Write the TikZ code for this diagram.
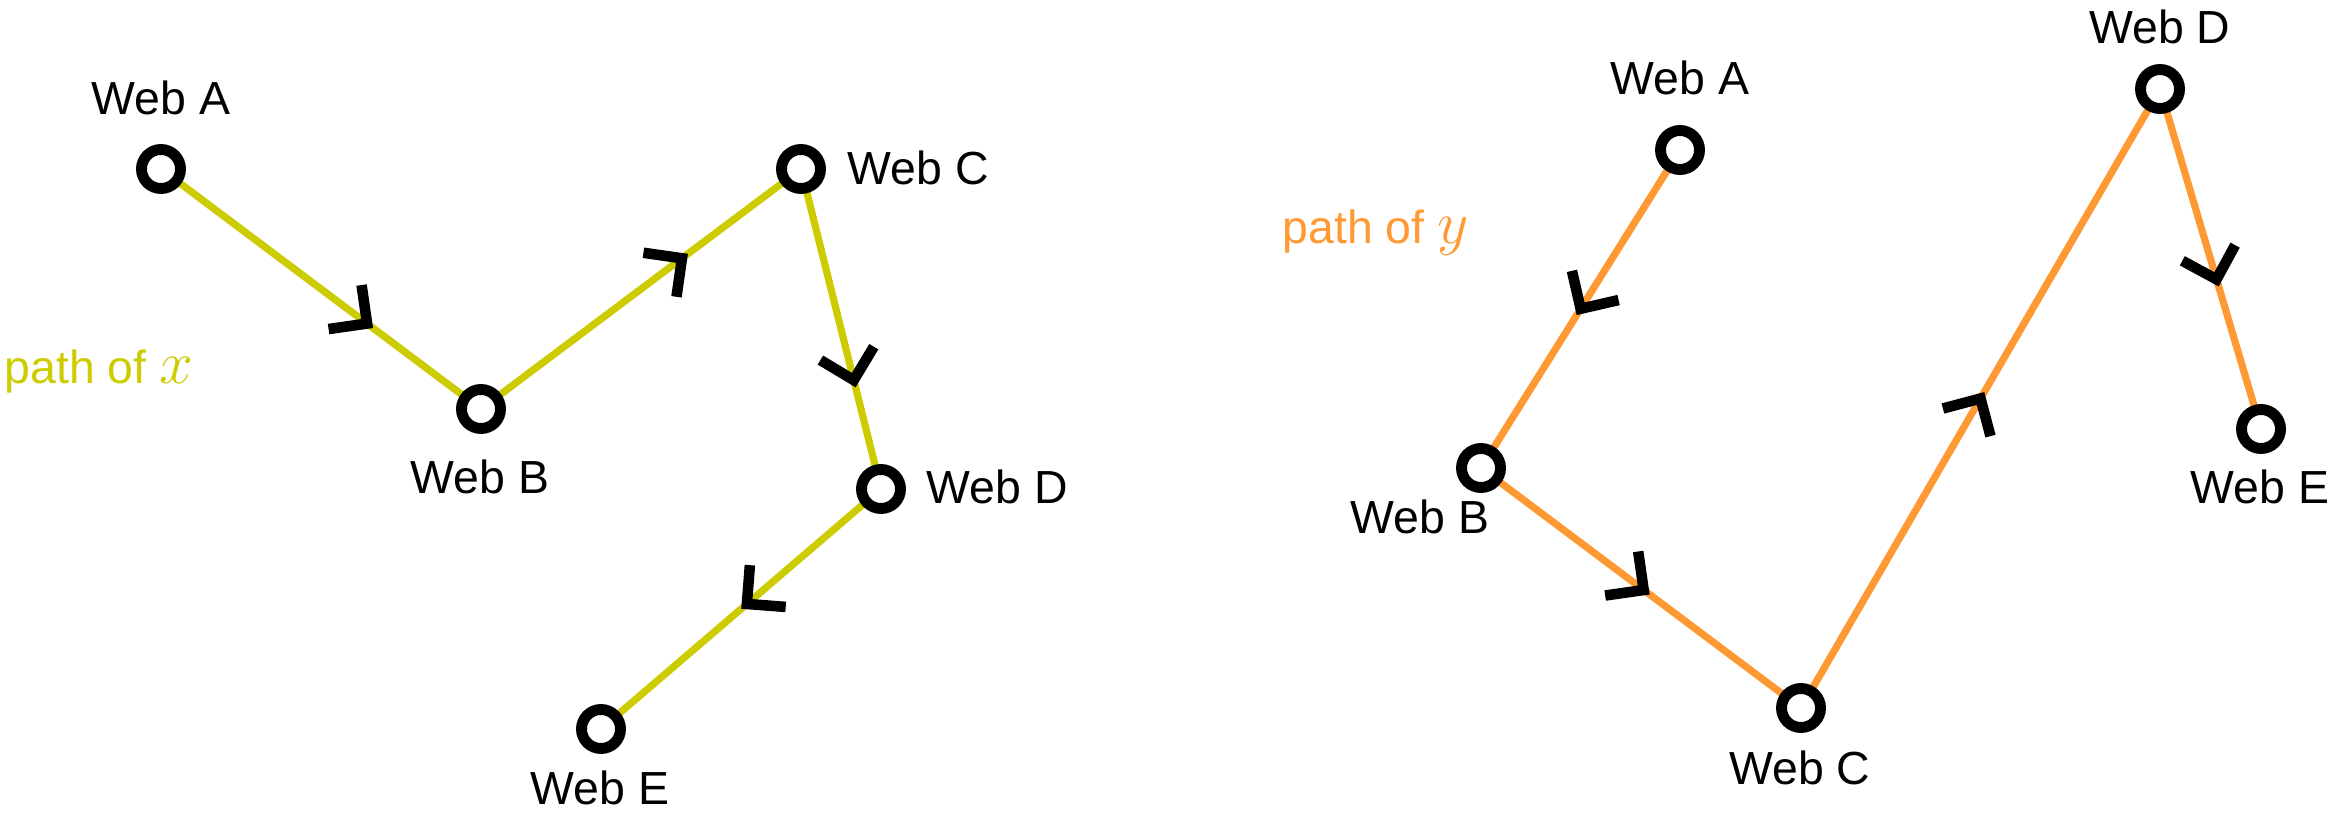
\documentclass[tikz,border=0pt]{standalone}
\usepackage{fontspec}
\setmainfont{Liberation Sans}
\usetikzlibrary{decorations.markings,backgrounds}
\definecolor{pathx}{RGB}{204,204,0}
\definecolor{pathy}{RGB}{255,153,51}
\newcommand{\bigmath}[1]{{\fontsize{16pt}{18pt}\selectfont$#1$}}
\begin{document}
\begin{tikzpicture}[x=0.01cm,y=-0.01cm,
  web/.style={circle, draw=black, fill=white, line width=3.1pt, minimum size=0.39cm, inner sep=0pt},
  lbl/.style={font=\fontsize{13.2pt}{15pt}\selectfont, inner sep=0pt, anchor=base},
  lblw/.style={lbl, anchor=base west},
  xline/.style={draw=pathx, line width=2.05pt},
  yline/.style={draw=pathy, line width=2.05pt},
  chev/.style={postaction={decorate}, decoration={markings, mark=at position #1 with {\draw[black, line width=3pt, line cap=butt, line join=miter] (-0.275cm,0.275cm) -- (0pt,0pt) -- (-0.275cm,-0.275cm);}}}
]
\path[use as bounding box] (0,0) rectangle (2342,818);

% left: path of x
\node[web] (xA) at (161,169) {};
\node[web] (xB) at (481,409) {};
\node[web] (xC) at (801,169) {};
\node[web] (xD) at (881,489) {};
\node[web] (xE) at (601,729) {};
\node[lbl] (xAl) at (161,114) {Web A};
\node[lbl] (xBl) at (480,493) {Web B};
\node[lblw] (xCl) at (847,184) {Web C};
\node[lblw] (xDl) at (926,503) {Web D};
\node[lbl] (xEl) at (600,804) {Web E};
\node[lblw, text=pathx] (xlab) at (4,383) {path of \bigmath{x}};

% right: path of y
\node[web] (yA) at (1680,150) {};
\node[web] (yB) at (1481,468) {};
\node[web] (yC) at (1801,708) {};
\node[web] (yD) at (2160,89) {};
\node[web] (yE) at (2261,429) {};
\node[lbl] (yAl) at (1680,94) {Web A};
\node[lbl] (yBl) at (1420,533) {Web B};
\node[lbl] (yCl) at (1800,784) {Web C};
\node[lbl] (yDl) at (2160,44) {Web D};
\node[lbl] (yEl) at (2260,503) {Web E};
\node[lblw, text=pathy] (ylab) at (1282,243) {path of \bigmath{y}};

\begin{scope}[on background layer]
\draw[xline, chev=0.646] (xA.center) -- (xB.center);
\draw[xline, chev=0.63] (xB.center) -- (xC.center);
\draw[xline, chev=0.66] (xC.center) -- (xD.center);
\draw[xline, chev=0.48] (xD.center) -- (xE.center);
\draw[yline, chev=0.5] (yA.center) -- (yB.center);
\draw[yline, chev=0.51] (yB.center) -- (yC.center);
\draw[yline, chev=0.5] (yC.center) -- (yD.center);
\draw[yline, chev=0.56] (yD.center) -- (yE.center);
\end{scope}
\end{tikzpicture}
\end{document}
